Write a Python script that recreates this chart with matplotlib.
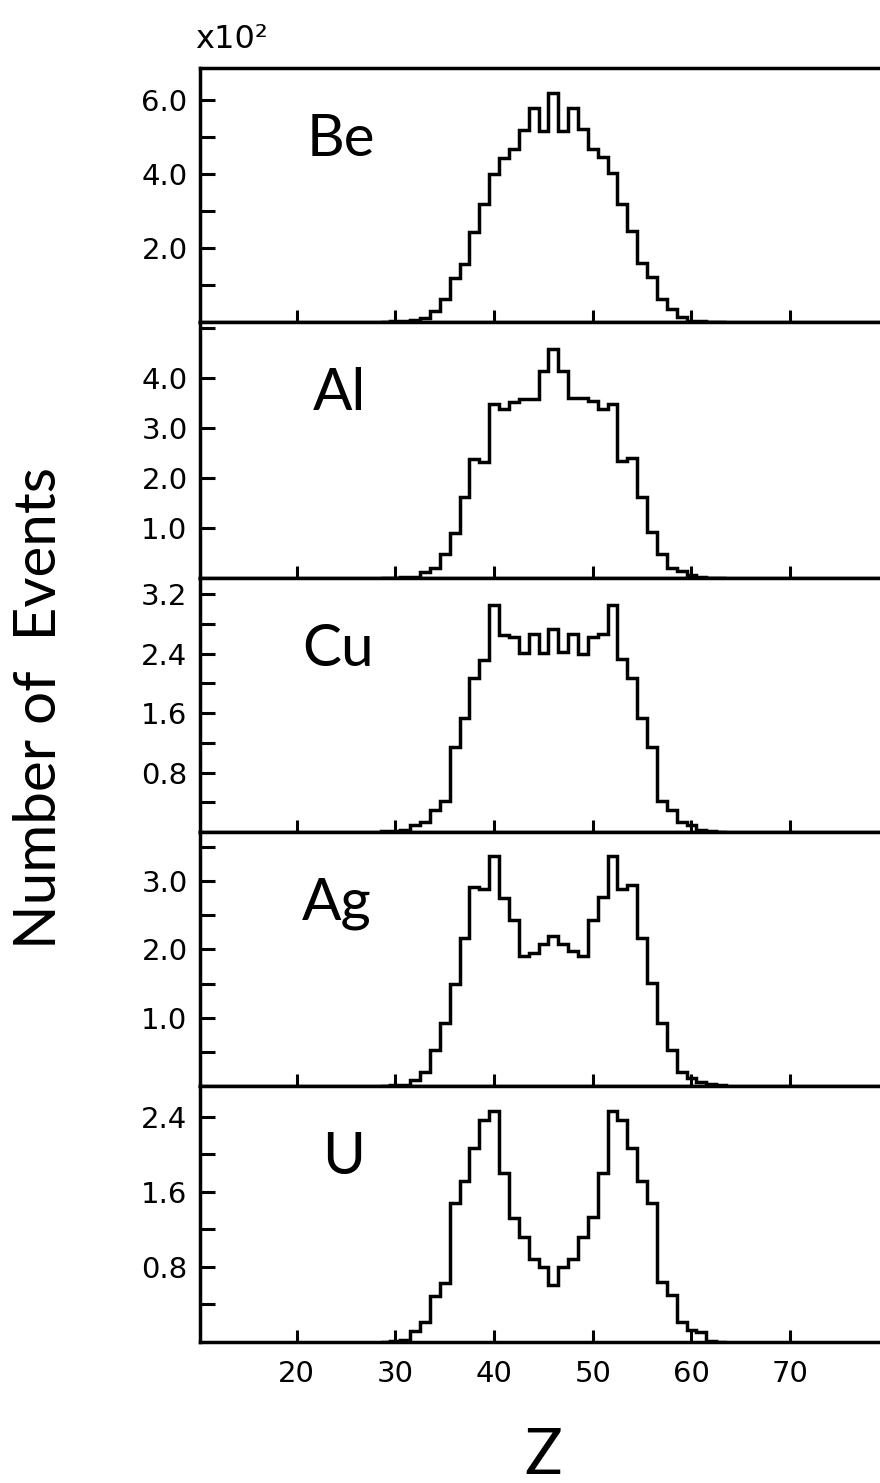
import numpy as np
import matplotlib
matplotlib.use("Agg")
import matplotlib.pyplot as plt

# Z de cada bin (ancho 1, centrado en el entero)
z = list(range(29, 64))

# Numero de eventos por bin (lectura de la figura)
be = [1, 2, 3, 5, 10, 31, 61, 118, 157, 244, 319, 399, 442, 467, 519, 577, 516, 618,
      516, 577, 521, 467, 445, 402, 319, 247, 159, 121, 61, 34, 13, 4, 2, 1, 0]
al = [0, 1, 2, 3, 12, 20, 49, 90, 162, 238, 233, 349, 339, 352, 359, 359, 415, 458,
      415, 360, 360, 354, 339, 349, 235, 240, 162, 92, 48, 20, 15, 7, 3, 1, 0]
cu = [1, 2, 3, 9, 14, 30, 42, 114, 153, 208, 232, 306, 265, 262, 241, 266, 241, 274,
      242, 266, 240, 263, 266, 306, 233, 207, 153, 114, 42, 30, 14, 9, 3, 1, 0]
ag = [0, 1, 2, 9, 21, 52, 92, 150, 217, 292, 288, 337, 276, 243, 190, 195, 208, 220,
      208, 198, 190, 243, 277, 337, 288, 294, 217, 151, 92, 52, 21, 11, 6, 3, 1]
u = [0, 1, 2, 11, 21, 49, 63, 148, 172, 207, 237, 246, 180, 132, 112, 88, 80, 61,
     80, 88, 112, 133, 180, 246, 237, 207, 172, 148, 64, 50, 21, 13, 10, 1, 0]

elementos = ["Be", "Al", "Cu", "Ag", "U"]
datos = [be, al, cu, ag, u]

# ticks del eje y (en unidades de 10^2)
ticks_con_etiqueta = [[2, 4, 6], [1, 2, 3, 4], [0.8, 1.6, 2.4, 3.2], [1, 2, 3], [0.8, 1.6, 2.4]]
ticks_todos = [[1, 2, 3, 4, 5, 6], [1, 2, 3, 4, 5],
               [0.4, 0.8, 1.2, 1.6, 2.0, 2.4, 2.8, 3.2],
               [0.5, 1.0, 1.5, 2.0, 2.5, 3.0, 3.5],
               [0.4, 0.8, 1.2, 1.6, 2.0, 2.4]]
ymax = [6.86, 5.12, 3.42, 3.72, 2.73]
xticks = [20, 30, 40, 50, 60, 70]

# posiciones de los paneles en pixeles
W, H = 880, 1483
izq, der = 200, 880
arriba = [68, 322, 578, 832, 1086]
abajo = [322, 578, 832, 1086, 1341.7]
pos_etiqueta = [0.157, 0.166, 0.151, 0.150, 0.179]

fuente = ["Lato", "DejaVu Sans"]

fig = plt.figure(figsize=(W / 100, H / 100), dpi=100)
fig.patch.set_facecolor("white")

bordes = np.arange(z[0] - 0.5, z[-1] + 1.0, 1.0)
lw = 2.5

for i, (nombre, cuentas) in enumerate(zip(elementos, datos)):
    ax = fig.add_axes([izq / W, 1 - abajo[i] / H, (der - izq) / W, (abajo[i] - arriba[i]) / H])
    ax.stairs(np.array(cuentas) / 100.0, bordes, color="black", linewidth=lw, baseline=0)
    ax.set_xlim(10.2, 79.1)
    ax.set_ylim(0, ymax[i])

    for lado in ["left", "top", "bottom"]:
        ax.spines[lado].set_linewidth(lw)
    ax.spines["right"].set_visible(False)

    ax.set_yticks(ticks_con_etiqueta[i], ["%.1f" % t for t in ticks_con_etiqueta[i]])
    ax.set_yticks(ticks_todos[i], minor=True)
    ax.tick_params(axis="y", which="both", direction="in", length=11, width=2.2,
                   right=False, labelsize=21, pad=9)

    ax.set_xticks(xticks)
    ax.tick_params(axis="x", direction="in", length=9, width=2.2, top=False,
                   labelsize=21, pad=13, labelbottom=(i == len(elementos) - 1))

    ax.text(pos_etiqueta[i], 0.655, nombre, transform=ax.transAxes, ha="left",
            va="baseline", fontsize=42, family=fuente)

fig.text(195 / W, 1 - 48 / H, "x10²", fontsize=23, ha="left", va="baseline")
fig.text(40 / W, 1 - 708 / H, "Number of  Events", rotation=90, ha="center", va="center",
         fontsize=42, family=fuente)
fig.text(543 / W, 1 - 1474 / H, "Z", ha="center", va="baseline",
         fontsize=45, family=fuente)

fig.savefig("out.png", dpi=100)
